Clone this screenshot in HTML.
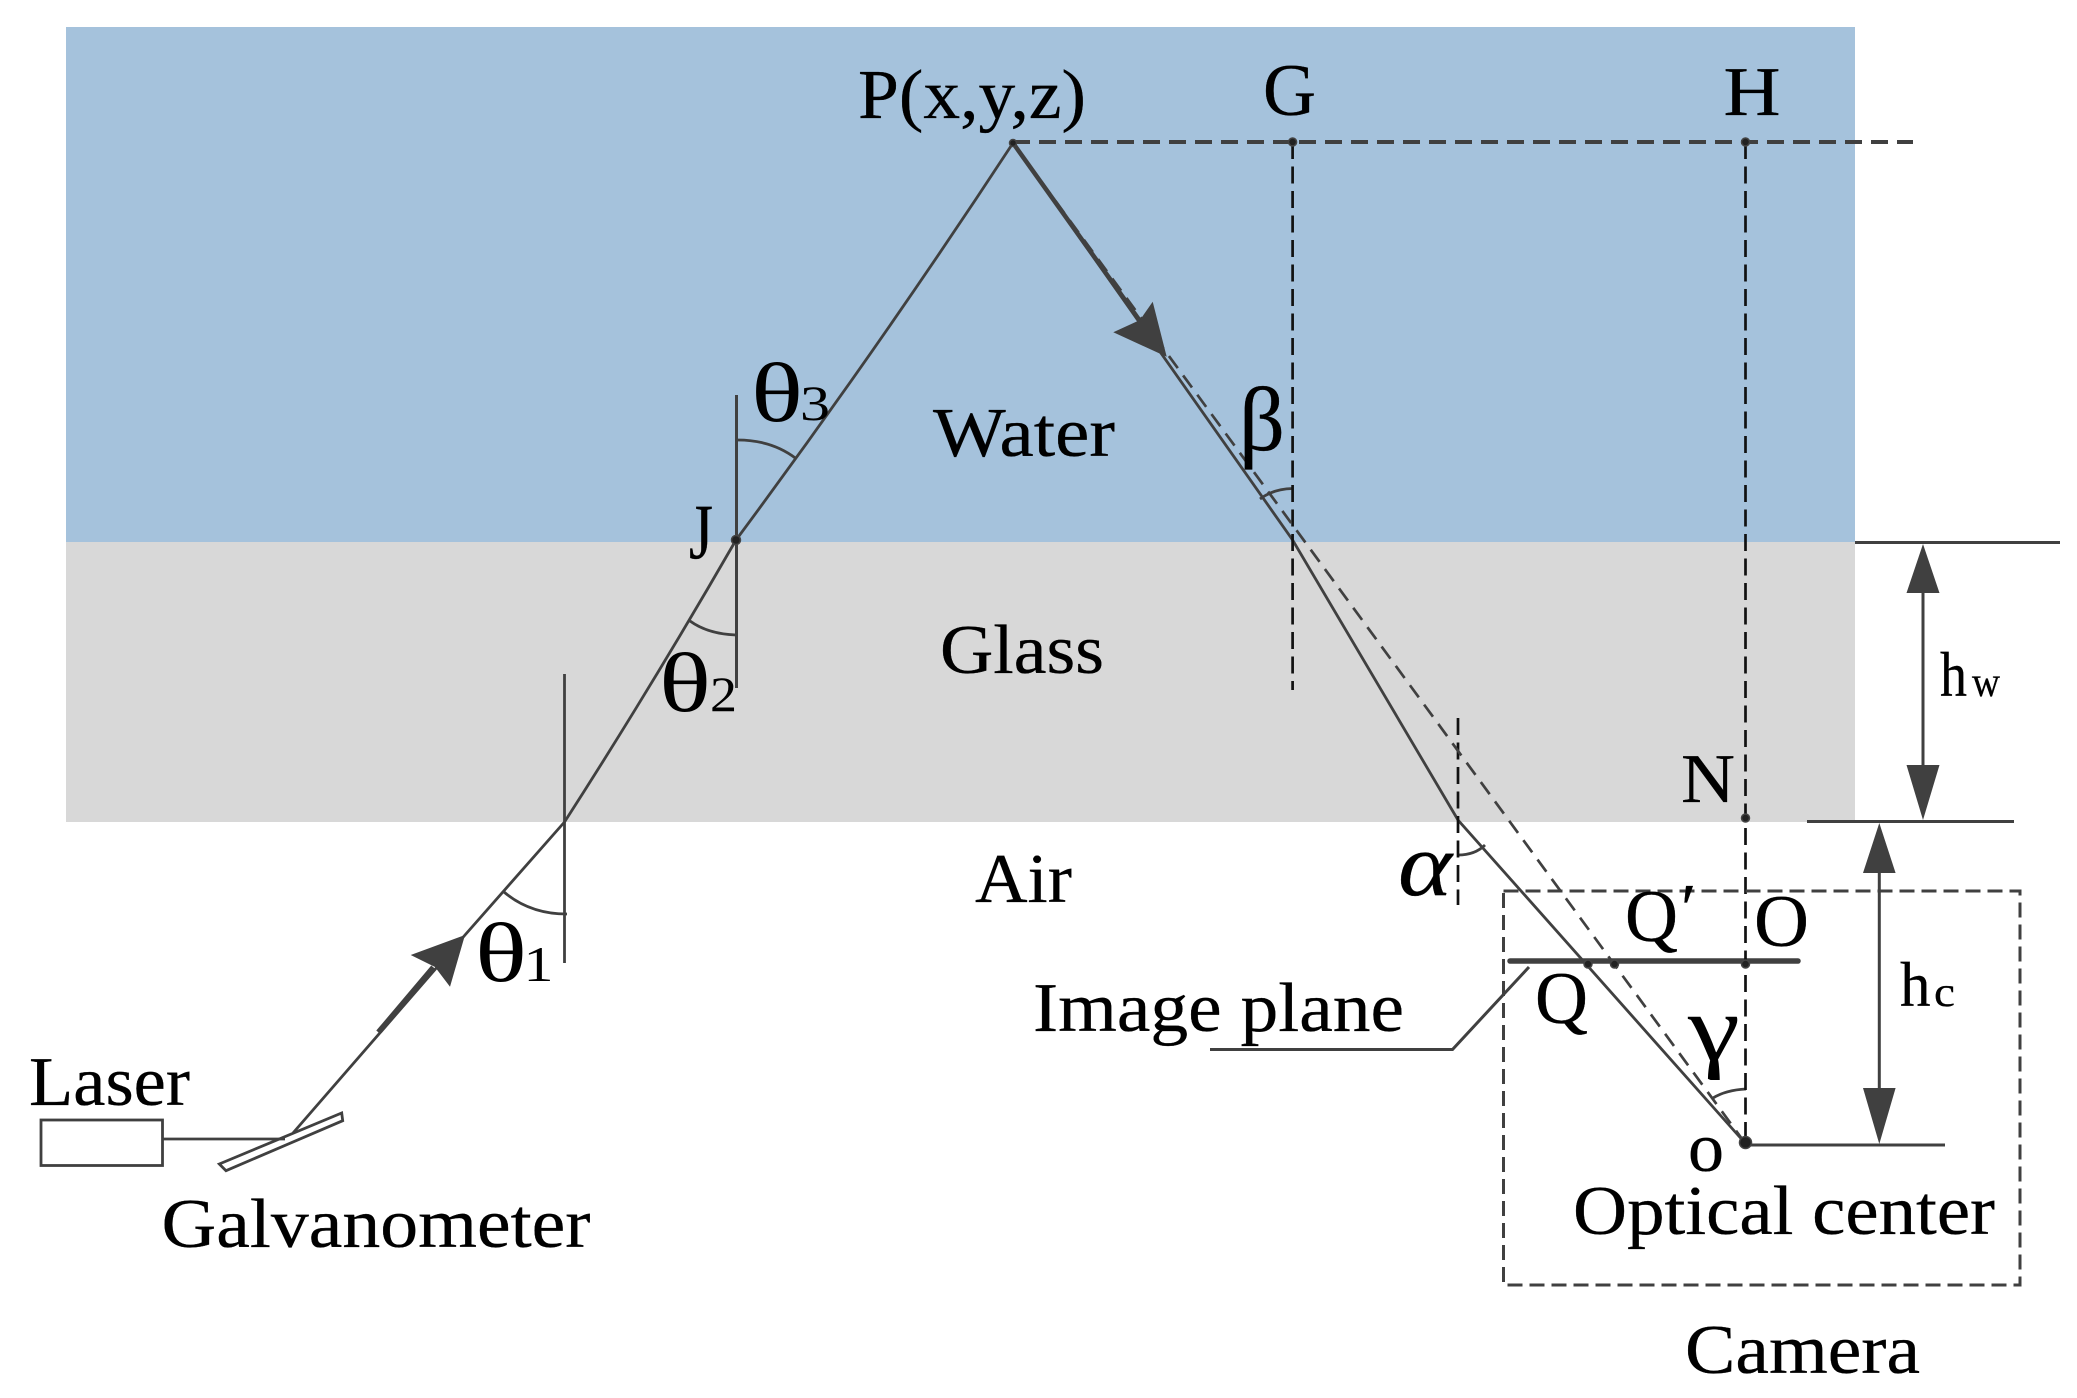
<!DOCTYPE html>
<html><head><meta charset="utf-8"><style>
html,body{margin:0;padding:0;background:#fff}
svg{display:block}
text{font-family:"Liberation Serif",serif;fill:#000;stroke:#000;stroke-width:.3}
text.thin{stroke:none}
</style></head><body>
<svg width="2077" height="1398" viewBox="0 0 2077 1398" xmlns="http://www.w3.org/2000/svg">
<rect width="2077" height="1398" fill="#fff"/>
<rect x="66" y="27" width="1789" height="515" fill="#a5c2dc"/>
<rect x="66" y="542" width="1789" height="280" fill="#d8d8d8"/>

<g fill="none" stroke="#404040" stroke-width="2.8">
<!-- normals -->
<line x1="736.5" y1="395" x2="736.5" y2="688" stroke-width="3"/>
<line x1="564.5" y1="674" x2="564.5" y2="963"/>
<!-- rays -->
<polyline points="293,1133 465,935 564.5,822"/>
<path d="M564.5,822 Q652,686 736,540 Q880,346 1013,143"/>
<polyline points="1013,143 1292.6,540 1458,820 1745,1143"/>
<line x1="1013" y1="143" x2="1150" y2="335" stroke-width="4.5"/>
<line x1="378" y1="1032" x2="433" y2="967" stroke-width="4.5"/>
<!-- arcs -->
<path d="M504,892 Q530,914 567,914"/>
<path d="M690,621 Q708,634 736,635"/>
<path d="M737.5,440 Q772,440 796,458.5"/>
<path d="M1260,499 Q1273,489 1292.6,488.5"/>
<path d="M1458,855 Q1475,855 1485,845"/>
<path d="M1713,1098 Q1726,1090 1746,1089"/>
<!-- laser -->
<rect x="41" y="1120" width="121.5" height="45.5"/>
<line x1="162.5" y1="1139" x2="285" y2="1139"/>
<polygon points="219.3,1164 341.7,1113 342.7,1120.7 226,1170.7"/>
<!-- image plane -->
<line x1="1510" y1="961" x2="1798" y2="961" stroke-width="5.5" stroke-linecap="round"/>
<polyline points="1529,967 1452.5,1049.5 1210,1049.5" stroke-width="3"/>
<!-- dims -->
<line x1="1855" y1="542.5" x2="2060" y2="542.5" stroke-width="3"/>
<line x1="1807" y1="821.5" x2="2014" y2="821.5" stroke-width="3"/>
<line x1="1750" y1="1145" x2="1945" y2="1145" stroke-width="3"/>
<line x1="1923" y1="585" x2="1923" y2="770" stroke-width="3"/>
<line x1="1879.3" y1="865" x2="1879.3" y2="1095" stroke-width="3"/>
</g>
<g fill="#404040" stroke="none">
<polygon points="465,935 410.7,955 435,967 450,986.7"/>
<polygon points="1166.7,356.7 1113.3,332.3 1140,320 1152.7,301.7"/>
<polygon points="1923,544 1939.5,593 1906.5,593"/>
<polygon points="1923,820 1939.5,765 1906.5,765"/>
<polygon points="1879.3,823 1895.6,873 1863,873"/>
<polygon points="1879.3,1144 1895.6,1088 1863,1088"/>
</g>
<!-- dashed -->
<g fill="none">
<line x1="1013" y1="142" x2="1913" y2="142" stroke="#404040" stroke-width="4" stroke-dasharray="17 9"/>
<line x1="1292.6" y1="142" x2="1292.6" y2="690" stroke="#111" stroke-width="2.7" stroke-dasharray="17 7.5"/>
<line x1="1745.5" y1="142" x2="1745.5" y2="1143" stroke="#111" stroke-width="2.7" stroke-dasharray="17 7.5"/>
<line x1="1458" y1="718" x2="1458" y2="905" stroke="#111" stroke-width="2.7" stroke-dasharray="17 7.5"/>
<line x1="1013" y1="143" x2="1745" y2="1143" stroke="#404040" stroke-width="2.7" stroke-dasharray="15 9"/>
<rect x="1503.5" y="891" width="516.5" height="394" stroke="#404040" stroke-width="3" stroke-dasharray="15 7"/>
</g>
<!-- dots -->
<g fill="#222" stroke="#444" stroke-width="1.5">
<circle cx="1013" cy="143" r="3.5"/>
<circle cx="1292.6" cy="142" r="4"/>
<circle cx="1745.5" cy="142" r="4"/>
<circle cx="736" cy="540" r="4.5"/>
<circle cx="1745.5" cy="818" r="4"/>
<circle cx="1588" cy="964" r="4"/>
<circle cx="1614.5" cy="964" r="4"/>
<circle cx="1745.5" cy="964" r="4"/>
<circle cx="1745.5" cy="1142.5" r="6"/>
</g>
<!-- labels -->
<g font-size="70">
<text x="858" y="118" textLength="228" lengthAdjust="spacingAndGlyphs">P(x,y,z)</text>
<text x="1263" y="115" textLength="53" lengthAdjust="spacingAndGlyphs" font-size="74">G</text>
<text x="1723.5" y="115" textLength="57" lengthAdjust="spacingAndGlyphs">H</text>
<text x="689" y="558" textLength="24" lengthAdjust="spacingAndGlyphs" font-size="78">J</text>
<text x="933" y="456" textLength="182" lengthAdjust="spacingAndGlyphs">Water</text>
<text x="940" y="673" textLength="164" lengthAdjust="spacingAndGlyphs">Glass</text>
<text x="975" y="902" textLength="97" lengthAdjust="spacingAndGlyphs">Air</text>
<text x="29" y="1105" textLength="161" lengthAdjust="spacingAndGlyphs">Laser</text>
<text x="161.5" y="1247" textLength="429" lengthAdjust="spacingAndGlyphs">Galvanometer</text>
<text x="1681" y="802" textLength="54" lengthAdjust="spacingAndGlyphs">N</text>
<text x="1625" y="941" textLength="53" lengthAdjust="spacingAndGlyphs" font-size="74">Q</text>
<text x="1681" y="932">′</text>
<text x="1754" y="946" textLength="55" lengthAdjust="spacingAndGlyphs" font-size="74">O</text>
<text x="1033" y="1031" textLength="371" lengthAdjust="spacingAndGlyphs">Image plane</text>
<text x="1535" y="1023" textLength="53" lengthAdjust="spacingAndGlyphs" font-size="74">Q</text>
<text x="1688" y="1171" textLength="36" lengthAdjust="spacingAndGlyphs">o</text>
<text x="1573" y="1234" textLength="422" lengthAdjust="spacingAndGlyphs">Optical center</text>
<text x="1685" y="1373" textLength="235" lengthAdjust="spacingAndGlyphs">Camera</text>
<text x="1940" y="696" textLength="27" lengthAdjust="spacingAndGlyphs" font-size="64">h</text>
<text x="1972" y="696" textLength="28" lengthAdjust="spacingAndGlyphs" font-size="42">w</text>
<text x="1900" y="1006" textLength="30.5" lengthAdjust="spacingAndGlyphs" font-size="64">h</text>
<text x="1934" y="1006" textLength="21" lengthAdjust="spacingAndGlyphs" font-size="42">c</text>
</g>
<g font-size="84">
<text class="thin" x="751" y="421" textLength="52" lengthAdjust="spacingAndGlyphs">θ</text>
<text class="thin" x="659" y="711" textLength="52" lengthAdjust="spacingAndGlyphs">θ</text>
<text class="thin" x="475" y="981" textLength="52" lengthAdjust="spacingAndGlyphs">θ</text>
<text x="1239" y="450" textLength="46" lengthAdjust="spacingAndGlyphs" font-size="91">β</text>
<text x="1398" y="895" textLength="54" lengthAdjust="spacingAndGlyphs" font-size="90" font-style="italic">α</text>
<text class="thin" x="1688" y="1060" textLength="52" lengthAdjust="spacingAndGlyphs" font-size="94">γ</text>
</g>
<g font-size="50">
<text class="thin" x="800" y="420" textLength="30" lengthAdjust="spacingAndGlyphs">3</text>
<text class="thin" x="710" y="711" textLength="27" lengthAdjust="spacingAndGlyphs">2</text>
<text class="thin" x="523.5" y="981" textLength="30" lengthAdjust="spacingAndGlyphs">1</text>
</g>
</svg>
</body></html>
